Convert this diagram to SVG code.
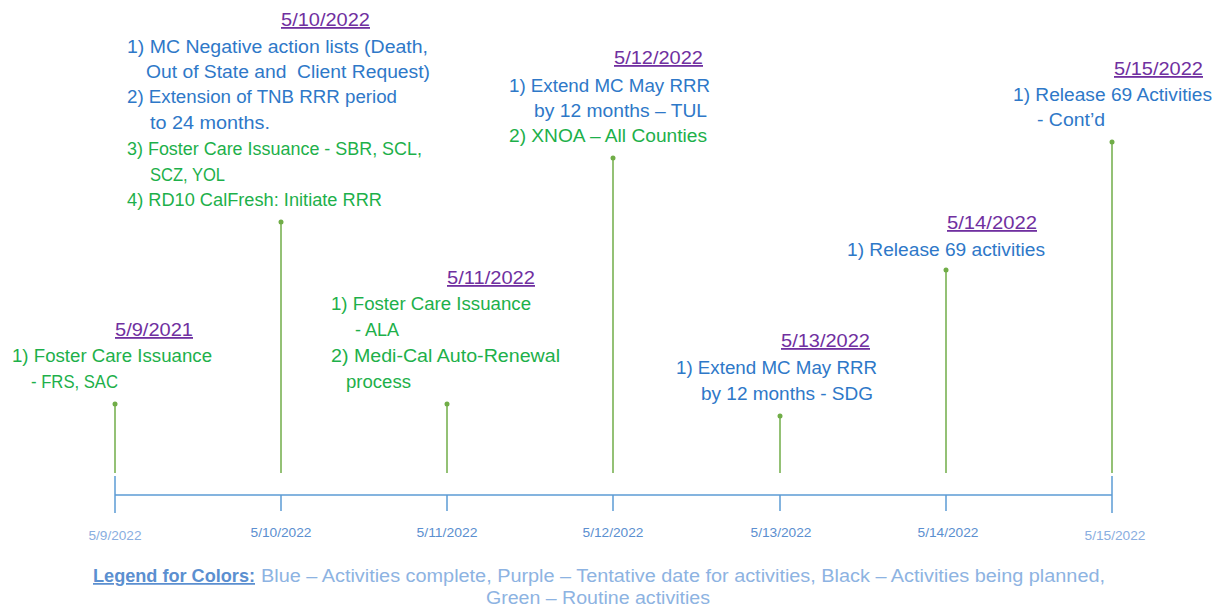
<svg xmlns="http://www.w3.org/2000/svg" width="1217" height="607" viewBox="0 0 1217 607">
<style>
text{font-family:"Liberation Sans",Arial,sans-serif;}
.hd{font-size:18px;fill:#7030A0;text-decoration:underline;}
.bl{font-size:17.5px;fill:#2E78C8;}
.gr{font-size:17.5px;fill:#1DB04A;}
.tk{font-size:12px;fill:#5B8FD0;text-anchor:middle;}
.tkl{font-size:12px;fill:#8AAEE0;text-anchor:middle;}
.lgh{font-size:17.5px;fill:#5B8FD0;font-weight:bold;text-decoration:underline;}
.lg{font-size:17.5px;fill:#8DB3E2;}
.stem{stroke:#70AD47;stroke-width:1.5;fill:none;}
.dot{fill:#70AD47;}
.axis{stroke:#5B9BD5;stroke-width:1.5;fill:none;}
</style>
<rect width="1217" height="607" fill="#ffffff"/>
<g id="connectors">
<line class="axis" x1="115" y1="495" x2="1112" y2="495"/>
<line class="axis" x1="115" y1="476" x2="115" y2="513"/>
<line class="axis" x1="1112" y1="476" x2="1112" y2="513"/>
<line class="axis" x1="281" y1="495" x2="281" y2="511"/>
<line class="axis" x1="447" y1="495" x2="447" y2="511"/>
<line class="axis" x1="613" y1="495" x2="613" y2="511"/>
<line class="axis" x1="780" y1="495" x2="780" y2="511"/>
<line class="axis" x1="946" y1="495" x2="946" y2="511"/>
<line class="stem" x1="115" y1="404" x2="115" y2="473"/>
<line class="stem" x1="281" y1="222" x2="281" y2="473"/>
<line class="stem" x1="447" y1="404" x2="447" y2="473"/>
<line class="stem" x1="613" y1="158" x2="613" y2="473"/>
<line class="stem" x1="780" y1="416" x2="780" y2="473"/>
<line class="stem" x1="946" y1="270" x2="946" y2="473"/>
<line class="stem" x1="1112" y1="142" x2="1112" y2="473"/>
<circle class="dot" cx="115" cy="404" r="2.5"/>
<circle class="dot" cx="281" cy="222" r="2.5"/>
<circle class="dot" cx="447" cy="404" r="2.5"/>
<circle class="dot" cx="613" cy="158" r="2.5"/>
<circle class="dot" cx="780" cy="416" r="2.5"/>
<circle class="dot" cx="946" cy="270" r="2.5"/>
<circle class="dot" cx="1112" cy="142" r="2.5"/>
</g>
<g id="axis-labels">
<text class="tkl" x="115" y="540" textLength="53" lengthAdjust="spacingAndGlyphs">5/9/2022</text>
<text class="tk" x="281" y="537" textLength="61" lengthAdjust="spacingAndGlyphs">5/10/2022</text>
<text class="tk" x="447" y="537" textLength="61" lengthAdjust="spacingAndGlyphs">5/11/2022</text>
<text class="tk" x="613" y="537" textLength="61" lengthAdjust="spacingAndGlyphs">5/12/2022</text>
<text class="tk" x="781" y="537" textLength="61" lengthAdjust="spacingAndGlyphs">5/13/2022</text>
<text class="tk" x="948" y="537" textLength="61" lengthAdjust="spacingAndGlyphs">5/14/2022</text>
<text class="tkl" x="1115" y="540" textLength="61" lengthAdjust="spacingAndGlyphs">5/15/2022</text>
</g>
<g id="node-5-9">
<text class="hd" x="115" y="336" textLength="78" lengthAdjust="spacingAndGlyphs">5/9/2021</text>
<text class="gr" x="12" y="362" textLength="200" lengthAdjust="spacingAndGlyphs">1) Foster Care Issuance</text>
<text class="gr" x="31" y="388" textLength="87" lengthAdjust="spacingAndGlyphs">- FRS, SAC</text>
</g>
<g id="node-5-10">
<text class="hd" x="281" y="26" textLength="89" lengthAdjust="spacingAndGlyphs">5/10/2022</text>
<text class="bl" x="127" y="53" textLength="301" lengthAdjust="spacingAndGlyphs">1) MC Negative action lists (Death,</text>
<text class="bl" x="146" y="78" textLength="284" lengthAdjust="spacingAndGlyphs" xml:space="preserve">Out of State and  Client Request)</text>
<text class="bl" x="127" y="103" textLength="270" lengthAdjust="spacingAndGlyphs">2) Extension of TNB RRR period</text>
<text class="bl" x="150" y="129" textLength="120" lengthAdjust="spacingAndGlyphs">to 24 months.</text>
<text class="gr" x="127" y="155" textLength="295" lengthAdjust="spacingAndGlyphs">3) Foster Care Issuance - SBR, SCL,</text>
<text class="gr" x="150" y="181" textLength="75" lengthAdjust="spacingAndGlyphs">SCZ, YOL</text>
<text class="gr" x="127" y="206" textLength="255" lengthAdjust="spacingAndGlyphs">4) RD10 CalFresh: Initiate RRR</text>
</g>
<g id="node-5-11">
<text class="hd" x="447" y="284" textLength="88" lengthAdjust="spacingAndGlyphs">5/11/2022</text>
<text class="gr" x="331" y="310" textLength="200" lengthAdjust="spacingAndGlyphs">1) Foster Care Issuance</text>
<text class="gr" x="355" y="336" textLength="44" lengthAdjust="spacingAndGlyphs">- ALA</text>
<text class="gr" x="331" y="362" textLength="229" lengthAdjust="spacingAndGlyphs">2) Medi-Cal Auto-Renewal</text>
<text class="gr" x="346" y="388" textLength="65" lengthAdjust="spacingAndGlyphs">process</text>
</g>
<g id="node-5-12">
<text class="hd" x="614" y="64" textLength="89" lengthAdjust="spacingAndGlyphs">5/12/2022</text>
<text class="bl" x="509" y="92" textLength="201" lengthAdjust="spacingAndGlyphs">1) Extend MC May RRR</text>
<text class="bl" x="534" y="117" textLength="173" lengthAdjust="spacingAndGlyphs">by 12 months – TUL</text>
<text class="gr" x="509" y="142" textLength="198" lengthAdjust="spacingAndGlyphs">2) XNOA – All Counties</text>
</g>
<g id="node-5-13">
<text class="hd" x="781" y="347" textLength="89" lengthAdjust="spacingAndGlyphs">5/13/2022</text>
<text class="bl" x="676" y="374" textLength="201" lengthAdjust="spacingAndGlyphs">1) Extend MC May RRR</text>
<text class="bl" x="701" y="400" textLength="172" lengthAdjust="spacingAndGlyphs">by 12 months - SDG</text>
</g>
<g id="node-5-14">
<text class="hd" x="947" y="229" textLength="90" lengthAdjust="spacingAndGlyphs">5/14/2022</text>
<text class="bl" x="847" y="256" textLength="198" lengthAdjust="spacingAndGlyphs">1) Release 69 activities</text>
</g>
<g id="node-5-15">
<text class="hd" x="1114" y="75" textLength="89" lengthAdjust="spacingAndGlyphs">5/15/2022</text>
<text class="bl" x="1013" y="101" textLength="199" lengthAdjust="spacingAndGlyphs">1) Release 69 Activities</text>
<text class="bl" x="1037" y="126" textLength="68" lengthAdjust="spacingAndGlyphs">- Cont’d</text>
</g>
<g id="legend">
<text class="lgh" x="93" y="582" textLength="162" lengthAdjust="spacingAndGlyphs">Legend for Colors:</text>
<text class="lg" x="261" y="582" textLength="844" lengthAdjust="spacingAndGlyphs">Blue – Activities complete, Purple – Tentative date for activities, Black – Activities being planned,</text>
<text class="lg" x="486" y="604" textLength="224" lengthAdjust="spacingAndGlyphs">Green – Routine activities</text>
</g>
</svg>
